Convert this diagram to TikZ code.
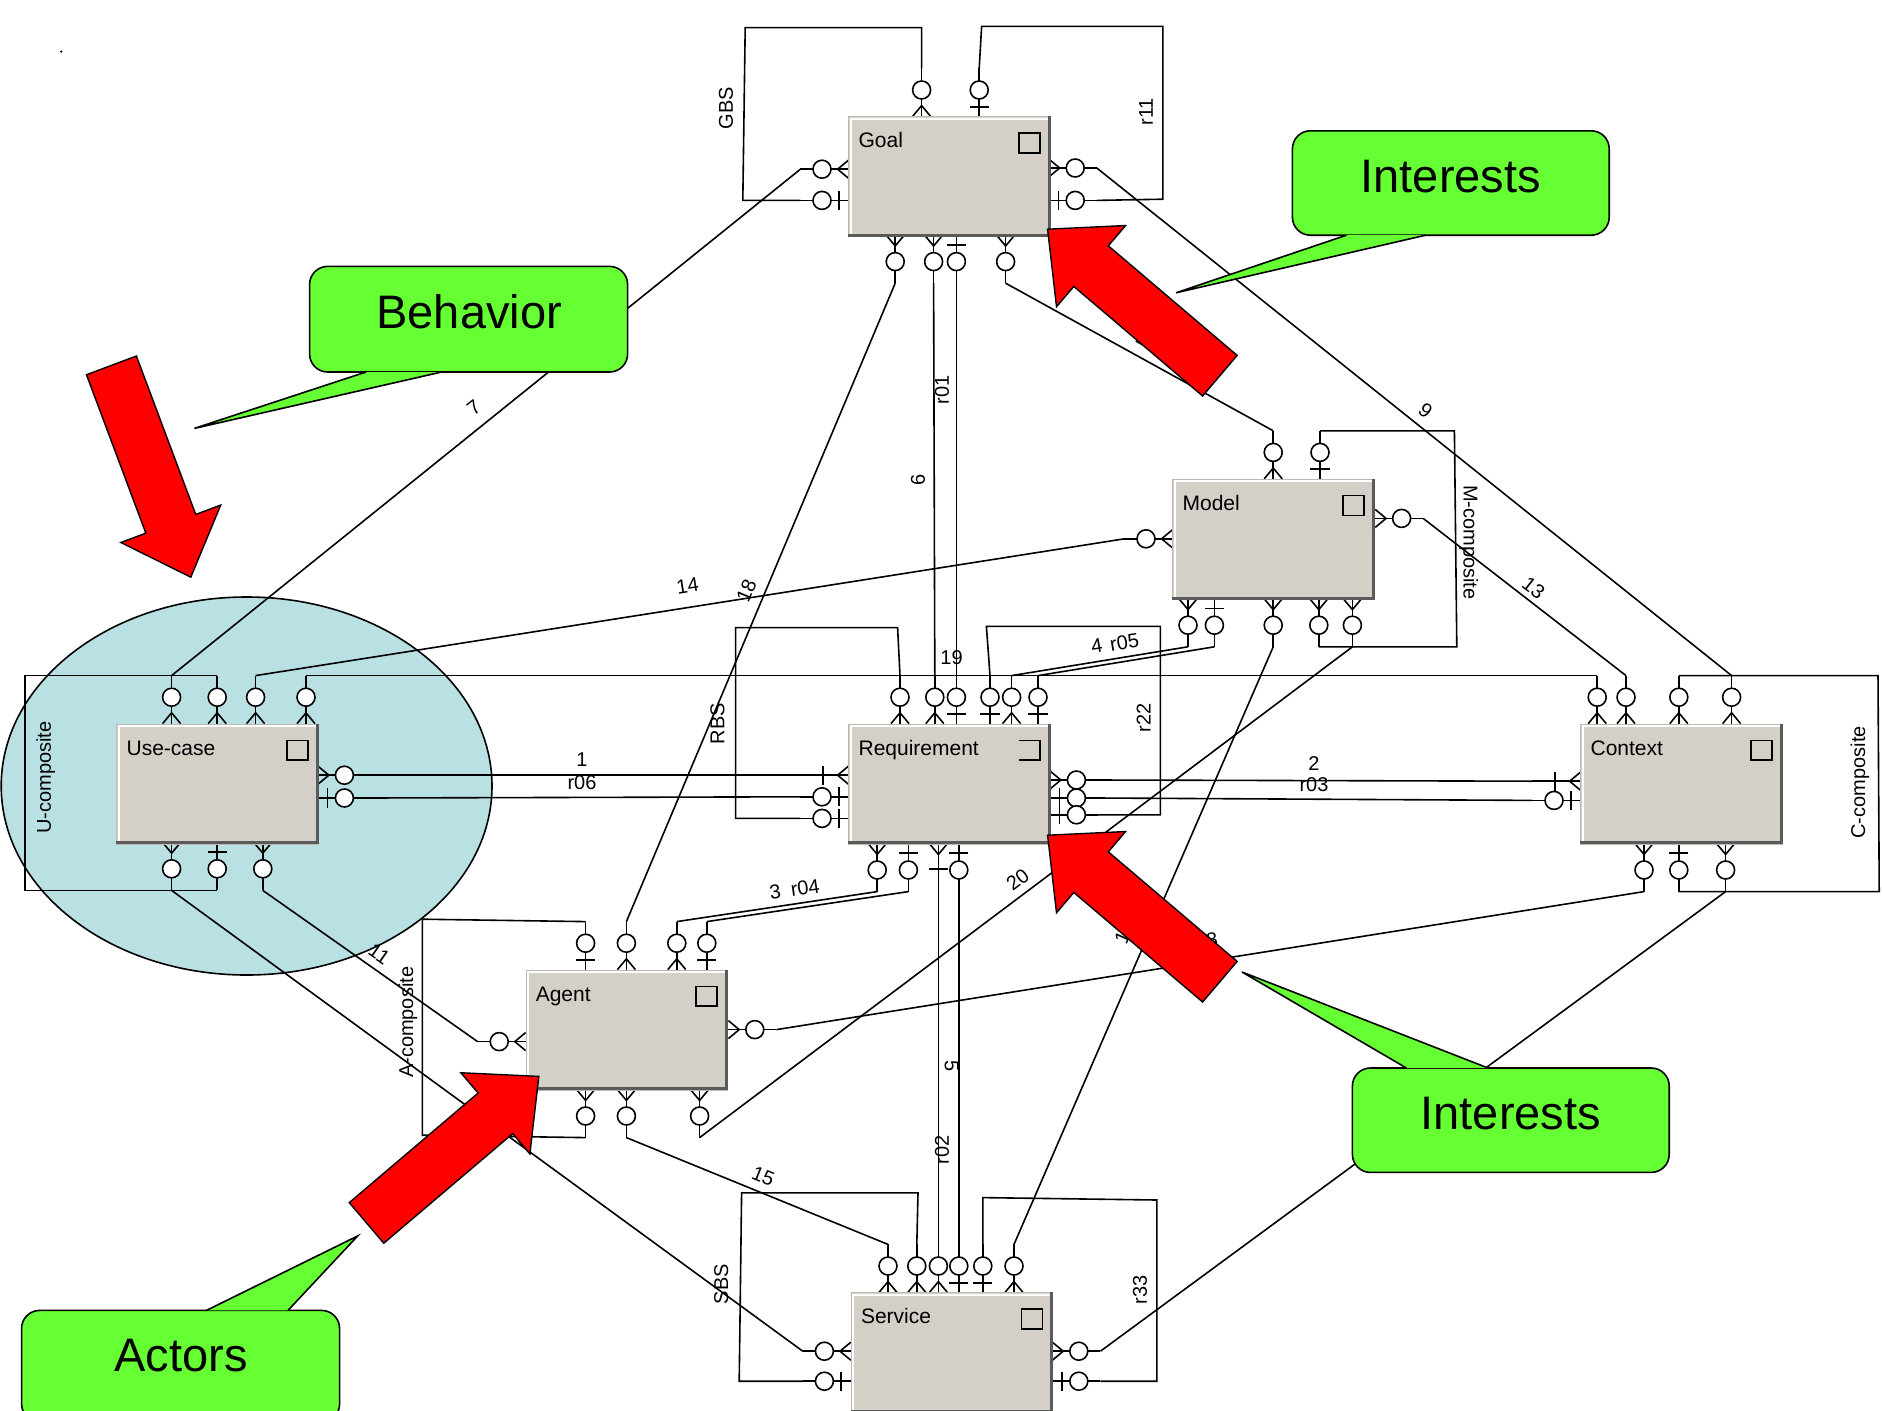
\documentclass[tikz,border=0pt]{standalone}
\usepackage{fontspec}
\setmainfont{Liberation Sans}
\usetikzlibrary{calc}
\definecolor{boxgray}{HTML}{D4D0C8}
\definecolor{boxedge}{HTML}{BDB9B1}
\definecolor{boxshadow}{HTML}{5A5A5A}
\definecolor{ellfill}{HTML}{B9E0E3}
\definecolor{callgreen}{HTML}{66FF33}
\definecolor{arrred}{HTML}{FF0000}
\tikzset{
  conn/.style={line width=1.6pt, line join=miter},
  mk/.style={line width=1.6pt},
  ent/.style={draw=boxedge, line width=0.8pt, fill=boxgray, minimum width=201.6pt, minimum height=120pt, inner sep=0pt, anchor=north west},
  etitle/.style={font=\fontsize{21}{24}\selectfont, anchor=base west, inner sep=0pt},
  lbl/.style={font=\fontsize{20}{22}\selectfont, inner sep=1pt},
  big/.style={font=\fontsize{47}{52}\selectfont, inner sep=0pt},
  callbox/.style={fill=callgreen, draw=black, line width=1.6pt, rounded corners=18pt},
  redarr/.style={fill=arrred, draw=black, line width=1.4pt, line join=miter},
}
% markers: name, x, y, dx, dy  (box edge point and outward direction)
\newcommand{\mkstub}[5]{\coordinate (#1) at ({#2+40*(#4)},{#3+40*(#5)});
  \draw[mk] (#2,#3) -- (#1);}
\newcommand{\mkcrow}[4]{\draw[mk] ({#1+7.5*(#4)},{#2-7.5*(#3)}) -- ({#1+9*(#3)},{#2+9*(#4)}) -- ({#1-7.5*(#4)},{#2+7.5*(#3)});}
\newcommand{\mktick}[5]{\draw[mk] ({#1+(#5)*(#3)+8*(#4)},{#2+(#5)*(#4)-8*(#3)}) -- ({#1+(#5)*(#3)-8*(#4)},{#2+(#5)*(#4)+8*(#3)});}
\newcommand{\mkring}[4]{\filldraw[mk, fill=white] ({#1+22*(#3)},{#2+22*(#4)}) circle[radius=9pt];}
\newcommand{\mkZM}[5]{\mkstub{#1}{#2}{#3}{#4}{#5}\mkcrow{#2}{#3}{#4}{#5}\mkring{#2}{#3}{#4}{#5}}
\newcommand{\mkZO}[5]{\mkstub{#1}{#2}{#3}{#4}{#5}\mktick{#2}{#3}{#4}{#5}{8}\mkring{#2}{#3}{#4}{#5}}
\newcommand{\mkOM}[5]{\mkstub{#1}{#2}{#3}{#4}{#5}\mkcrow{#2}{#3}{#4}{#5}\mktick{#2}{#3}{#4}{#5}{21}}
% entity: name, x, y (north west), title
\newcommand{\mkentity}[4]{%
  \node[ent] (#1) at (#2,#3) {};
  \draw[white, line width=2pt] ([xshift=2.2pt,yshift=3pt]#1.south west) -- ([xshift=2.2pt,yshift=-2.2pt]#1.north west) -- ([xshift=-3pt,yshift=-2.2pt]#1.north east);
  \draw[boxshadow, line width=3pt] ([xshift=-1.5pt]#1.north east) -- ([xshift=-1.5pt,yshift=1.5pt]#1.south east) -- ([yshift=1.5pt]#1.south west);
  \node[etitle] (#1-t) at ([xshift=10pt,yshift=-31.5pt]#1.north west) {#4};}
\newcommand{\sqicon}[1]{\draw[line width=1.6pt] ([xshift=-10.8pt,yshift=-16.8pt]#1.north east) rectangle ([xshift=-31.8pt,yshift=-36.6pt]#1.north east);}
\newcommand{\bricon}[1]{\draw[line width=1.6pt] ([xshift=-31.8pt,yshift=-16.8pt]#1.north east) -- ([xshift=-10.8pt,yshift=-16.8pt]#1.north east) -- ([xshift=-10.8pt,yshift=-36.6pt]#1.north east) -- ([xshift=-31.8pt,yshift=-36.6pt]#1.north east);}
% callout: x1,y1,x2,y2, base y, base x1, base x2, tip
\newcommand{\mkcallout}[8]{%
  \fill[callgreen] (#6,#5) -- #8 -- (#7,#5) -- cycle;
  \filldraw[callbox] (#1,#2) rectangle (#3,#4);
  \begin{scope}\clip (#6,#5) -- #8 -- (#7,#5) -- cycle;
    \fill[callgreen] (#6,{#5-4}) rectangle (#7,{#5+4});\end{scope}
  \draw[line width=1.6pt, line join=miter] (#6,#5) -- #8 -- (#7,#5);}
% red block arrow: tip x, tip y, ux, uy (unit vector tip -> tail)
\newcommand{\mkredarrow}[4]{%
  \filldraw[redarr] (#1,#2)
  -- ({#1+47.5*(#3)+44.4*(#4)},{#2+47.5*(#4)-44.4*(#3)})
  -- ({#1+47.5*(#3)+22.2*(#4)},{#2+47.5*(#4)-22.2*(#3)})
  -- ({#1+188.4*(#3)+22.2*(#4)},{#2+188.4*(#4)-22.2*(#3)})
  -- ({#1+188.4*(#3)-22.2*(#4)},{#2+188.4*(#4)+22.2*(#3)})
  -- ({#1+47.5*(#3)-22.2*(#4)},{#2+47.5*(#4)+22.2*(#3)})
  -- ({#1+47.5*(#3)-44.4*(#4)},{#2+47.5*(#4)+44.4*(#3)})
  -- cycle;}
\begin{document}
\begin{tikzpicture}[x=1.2pt,y=-1.2pt]
\useasboundingbox (0,0) rectangle (1568.33,1175.83);
\clip (0,0) rectangle (1568.33,1175.83);
\fill[white] (0,0) rectangle (1568.33,1175.83);
\fill (51,43) circle[radius=1.3pt];
% background ellipse
\filldraw[fill=ellfill, line width=1.6pt] (205.5,655) ellipse[x radius=245.4pt, y radius=189pt];
% ---- markers ----
% Goal
\mkZM{gT1}{768}{97}{0}{-1}
\mkZO{gT2}{816}{97}{0}{-1}
\mkZM{gL1}{707}{141}{-1}{0}
\mkZO{gL2}{707}{167}{-1}{0}
\mkZM{gR1}{874}{140}{1}{0}
\mkZO{gR2}{874}{167}{1}{0}
\mkZM{gB1}{746}{196}{0}{1}
\mkZM{gB2}{778}{196}{0}{1}
\mkZO{gB3}{797}{196}{0}{1}
\mkZM{gB4}{838}{196}{0}{1}
% Requirement
\mkZM{rT1}{750}{603}{0}{-1}
\mkZM{rT2}{779}{603}{0}{-1}
\mkZO{rT3}{797}{603}{0}{-1}
\mkZO{rT4}{825}{603}{0}{-1}
\mkZM{rT5}{843}{603}{0}{-1}
\mkZO{rT6}{865}{603}{0}{-1}
\mkOM{rL1}{707}{646}{-1}{0}
\mkZO{rL2}{707}{664}{-1}{0}
\mkZO{rL3}{707}{682}{-1}{0}
\mkZM{rR1}{875}{650}{1}{0}
\mkZO{rR2}{875}{665}{1}{0}
\mkZO{rR3}{875}{679}{1}{0}
\mkZM{rB1}{731}{703}{0}{1}
\mkZO{rB2}{757}{703}{0}{1}
\mkOM{rB3}{782}{703}{0}{1}
\mkZO{rB4}{799}{703}{0}{1}
% Use-case
\mkZM{uT1}{143}{603}{0}{-1}
\mkZM{uT2}{181}{603}{0}{-1}
\mkZM{uT3}{213}{603}{0}{-1}
\mkZM{uT4}{255}{603}{0}{-1}
\mkZM{uR1}{265}{646}{1}{0}
\mkZO{uR2}{265}{665}{1}{0}
\mkZM{uB1}{143}{702}{0}{1}
\mkZO{uB2}{181}{702}{0}{1}
\mkZM{uB3}{219}{702}{0}{1}
% Model
\mkZM{mT1}{1061}{399}{0}{-1}
\mkZO{mT2}{1100}{399}{0}{-1}
\mkZM{mL}{977}{449}{-1}{0}
\mkZM{mR}{1146}{432}{1}{0}
\mkZM{mB1}{990}{499}{0}{1}
\mkZO{mB2}{1012}{499}{0}{1}
\mkZM{mB3}{1061}{499}{0}{1}
\mkZM{mB4}{1099}{499}{0}{1}
\mkZM{mB5}{1127}{499}{0}{1}
% Context
\mkZM{cT1}{1331}{603}{0}{-1}
\mkZM{cT2}{1355}{603}{0}{-1}
\mkZM{cT3}{1399}{603}{0}{-1}
\mkZM{cT4}{1443}{603}{0}{-1}
\mkOM{cL1}{1317}{651}{-1}{0}
\mkZO{cL2}{1317}{667}{-1}{0}
\mkZM{cB1}{1370}{703}{0}{1}
\mkZO{cB2}{1399}{703}{0}{1}
\mkZM{cB3}{1438}{703}{0}{1}
% Agent
\mkZO{aT1}{488}{808}{0}{-1}
\mkZM{aT2}{522}{808}{0}{-1}
\mkZM{aT3}{564}{808}{0}{-1}
\mkZO{aT4}{589}{808}{0}{-1}
\mkZM{aL}{438}{868}{-1}{0}
\mkZM{aR}{607}{858}{1}{0}
\mkZM{aB1}{488}{908}{0}{1}
\mkZM{aB2}{522}{908}{0}{1}
\mkZM{aB3}{583}{908}{0}{1}
% Service
\mkZM{sT1}{740}{1077}{0}{-1}
\mkZM{sT2}{764}{1077}{0}{-1}
\mkZM{sT3}{782}{1077}{0}{-1}
\mkZO{sT4}{799}{1077}{0}{-1}
\mkZO{sT5}{819}{1077}{0}{-1}
\mkZM{sT6}{845}{1077}{0}{-1}
\mkZM{sL1}{709}{1126}{-1}{0}
\mkZO{sL2}{709}{1151}{-1}{0}
\mkZM{sR1}{877}{1126}{1}{0}
\mkZO{sR2}{877}{1151}{1}{0}
% ---- connectors ----
\draw[conn] (gT1) -- (768,23) -- (621,23) -- (619,167) -- (gL2);
\draw[conn] (gT2) -- (818,22) -- (969,22) -- (969,166) -- (gR2);
\draw[conn] (gL1) -- (uT1);
\draw[conn] (gR1) -- (cT4);
\draw[conn] (gB1) -- (aT2);
\draw[conn] (gB2) -- (rT2);
\draw[conn] (gB3) -- (rT3);
\draw[conn] (gB4) -- (mT1);
\draw[conn] (rL3) -- (613,682) -- (613,523) -- (748,523) -- (rT1);
\draw[conn] (rT4) -- (822,522) -- (967,522) -- (967,679) -- (rR3);
\draw[conn] (rT5) -- (mB1);
\draw[conn] (rT6) -- (mB2);
\draw[conn] (rL1) -- (uR1);
\draw[conn] (rL2) -- (uR2);
\draw[conn] (rR1) -- (cL1);
\draw[conn] (rR2) -- (cL2);
\draw[conn] (rB1) -- (aT3);
\draw[conn] (rB2) -- (aT4);
\draw[conn] (rB3) -- (sT3);
\draw[conn] (rB4) -- (sT4);
\draw[conn] (uT4) -- (cT1);
\draw[conn] (uT3) -- (mL);
\draw[conn] (uT2) -- (21,563) -- (21,742) -- (uB2);
\draw[conn] (uB1) -- (sL1);
\draw[conn] (uB3) -- (aL);
\draw[conn] (aT1) -- (352,766) -- (352,946) -- (aB1);
\draw[conn] (aB2) -- (sT1);
\draw[conn] (aB3) -- (mB5);
\draw[conn] (aR) -- (cB1);
\draw[conn] (mB4) -- (1214,539) -- (1212,359) -- (mT2);
\draw[conn] (mR) -- (cT2);
\draw[conn] (cT3) -- (1565,563) -- (1566,743) -- (cB2);
\draw[conn] (cB3) -- (sR1);
\draw[conn] (mB3) -- (sT6);
\draw[conn] (sT2) -- (765,994) -- (618,994) -- (616,1151) -- (sL2);
\draw[conn] (sT5) -- (819,998) -- (964,1000) -- (964,1151) -- (sR2);
% ---- connector labels ----
\node[lbl, rotate=90] (t-gbs) at (605,90) {GBS};
\node[lbl, rotate=90] (t-r11) at (955,93) {r11};
\node[lbl, rotate=38.9] (t-7) at (395,340) {7};
\node[lbl, rotate=-38.6] (t-9) at (1188,342) {9};
\node[lbl, rotate=67.2] (t-18) at (622,492) {18};
\node[lbl, rotate=90] (t-6) at (765,400) {6};
\node[lbl, rotate=90] (t-r01) at (785,325) {r01};
\node[lbl, rotate=90] (t-rbs) at (598,603) {RBS};
\node[lbl, rotate=90] (t-r22) at (953,598) {r22};
\node[lbl, rotate=9] (t-4) at (914,538) {4};
\node[lbl, rotate=9] (t-r05) at (937,535) {r05};
\node[lbl] (t-1) at (485,633) {1};
\node[lbl] (t-r06) at (485,652) {r06};
\node[lbl] (t-2) at (1095,636) {2};
\node[lbl] (t-r03) at (1095,654) {r03};
\node[lbl, rotate=8] (t-3) at (646,743) {3};
\node[lbl, rotate=8] (t-r04) at (671,740) {r04};
\node[lbl, rotate=-90] (t-5) at (793,888) {5};
\node[lbl, rotate=90] (t-r02) at (785,958) {r02};
\node[lbl] (t-19) at (793,548) {19};
\node[lbl, rotate=9] (t-14) at (573,488) {14};
\node[lbl, rotate=90] (t-uc) at (38,648) {U-composite};
\node[lbl, rotate=-35] (t-11) at (316,795) {11};
\node[lbl, rotate=90] (t-ac) at (340,852) {A-composite};
\node[lbl, rotate=-22] (t-15) at (636,980) {15};
\node[lbl, rotate=37] (t-20) at (848,733) {20};
\node[lbl, rotate=9] (t-8) at (1010,783) {8};
\node[lbl, rotate=-90] (t-mc) at (1224,452) {M-composite};
\node[lbl, rotate=-38] (t-13) at (1278,490) {13};
\node[lbl, rotate=90] (t-cc) at (1550,652) {C-composite};
\node[lbl, rotate=90] (t-sbs) at (601,1070) {SBS};
\node[lbl, rotate=90] (t-r33) at (950,1075) {r33};
\node[lbl, rotate=-28.9] (t-12) at (956,284) {12};
\node[lbl, rotate=66.6] (t-16) at (937,777) {16};
% ---- entities ----
\mkentity{goal}{707}{97}{Goal}\sqicon{goal}
\mkentity{req}{707}{603}{Requirement}\bricon{req}
\mkentity{uc}{97}{603}{Use-case}\sqicon{uc}
\mkentity{model}{977}{399}{Model}\sqicon{model}
\mkentity{ctx}{1317}{603}{Context}\sqicon{ctx}
\mkentity{agent}{438}{808}{Agent}\sqicon{agent}
\mkentity{svc}{709}{1077}{Service}\sqicon{svc}
% ---- callouts ----
\mkcallout{258}{222}{523}{310}{310}{305}{368}{(162,357)}
\node[big] (c-beh) at (391,260) {Behavior};
\mkcallout{1077}{109}{1341}{196}{196}{1122}{1188}{(980,244)}
\node[big] (c-int1) at (1209,147) {Interests};
\mkcallout{1127}{890}{1391}{977}{890}{1172}{1240}{(1035,810)}
\node[big] (c-int2) at (1259,928) {Interests};
\mkcallout{18}{1092}{283}{1185}{1092}{172}{240}{(298,1030)}
\node[big] (c-act) at (151,1130) {Actors};
% ---- red arrows ----
\mkredarrow{159}{481}{-0.351}{-0.937}
\mkredarrow{873}{191}{0.762}{0.648}
\mkredarrow{873}{696}{0.762}{0.648}
\mkredarrow{449}{897}{-0.762}{0.648}
\end{tikzpicture}
\end{document}
